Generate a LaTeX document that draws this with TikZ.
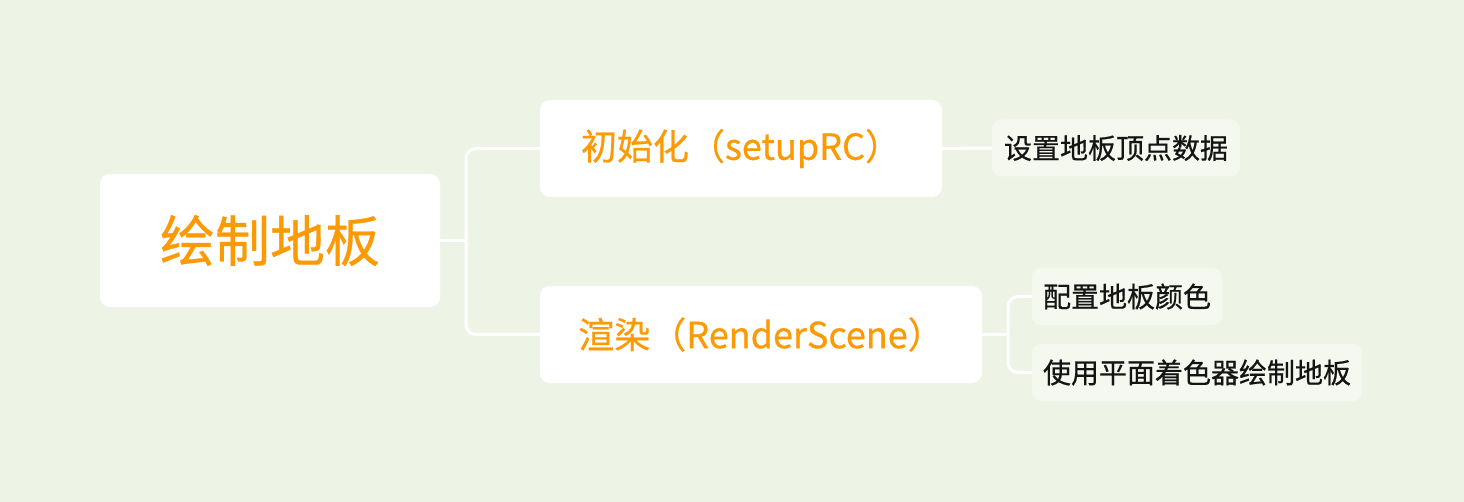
\documentclass[tikz,border=0pt]{standalone}
\usepackage{fontspec}
\setmainfont{Noto Sans CJK SC}[FakeBold=0.6]
\usepackage{xcolor}
\usepackage{tikz}
\usetikzlibrary{positioning}

\definecolor{bgcol}{HTML}{EDF4E6}
\definecolor{leafcol}{HTML}{F5F8EE}
\definecolor{orangetxt}{HTML}{FC9A05}
\definecolor{darktxt}{HTML}{141414}

\begin{document}
\begin{tikzpicture}[x=1pt, y=-1pt]
        % Define styles
        \tikzset{
            rootbox/.style={rectangle, rounded corners=10pt, fill=white, minimum width=340pt, minimum height=133pt, text=orangetxt, font=\fontsize{55}{60}\selectfont},
            topic/.style={rectangle, rounded corners=10pt, fill=white, minimum height=97pt, text=orangetxt, font=\fontsize{36}{40}\selectfont},
            leaf/.style={rectangle, rounded corners=9pt, fill=leafcol, minimum height=57pt, text=darktxt, font=\fontsize{28}{32}\selectfont},
            link/.style={draw=white, line width=3pt, rounded corners=10pt}
        }

        % Background
        \fill[bgcol] (0,0) rectangle (1464,502);

        % Create nodes
        \node [rootbox] (root) at (270,240.5) {绘制地板};
        \node [topic, minimum width=402pt] (init) at (741,148.5) {初始化（setupRC）};
        \node [topic, minimum width=442pt] (render) at (761,334.5) {渲染（RenderScene）};
        \node [leaf, minimum width=248pt] (vertex) at (1116,148) {设置地板顶点数据};
        \node [leaf, minimum width=190pt] (color) at (1127,296.5) {配置地板颜色};
        \node [leaf, minimum width=330pt] (shader) at (1197,372.5) {使用平面着色器绘制地板};

        % Create connectors
        \coordinate (fork) at (466,240.5);
        \coordinate (fork2) at (1008,334.5);
        \draw [link] (root.east) -- (fork);
        \draw [link] (fork) |- (init.west);
        \draw [link] (fork) |- (render.west);
        \draw [link] (init.east) -- (vertex.west);
        \draw [link] (render.east) -- (fork2);
        \draw [link] (fork2) |- (color.west);
        \draw [link] (fork2) |- (shader.west);
    \end{tikzpicture}
\end{document}
